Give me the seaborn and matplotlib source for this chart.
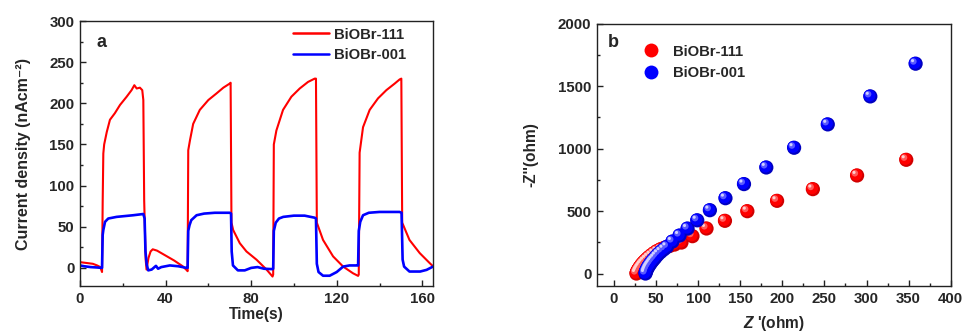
import numpy as np
import pandas as pd
import matplotlib
matplotlib.use("Agg")
import matplotlib.pyplot as plt
import matplotlib.transforms as mtransforms
from matplotlib.lines import Line2D
from matplotlib.ticker import MultipleLocator
import seaborn as sns

# ---------------- data: panel a (photocurrent) ----------------
t_111 = [0, 3, 6, 8, 9.5, 10.3, 10.6, 10.9, 11.3, 11.7, 12.5, 14, 16.3, 18.7, 21.8, 24.1,
         25.4, 26.5, 28, 29.1, 29.6, 30, 30.7, 31.1, 32, 33, 34, 36, 40, 44, 48, 50,
         50.3, 50.6, 51.4, 52.9, 56, 60, 63.8, 67, 70, 70.4, 70.8, 71.6, 74.7, 77.8,
         82.5, 87.2, 90, 90.3, 90.6, 91.8, 94.9, 98.8, 102.7, 106.6, 109.7, 110.3,
         110.7, 113.6, 118.3, 123, 127.6, 130, 130.3, 130.7, 132.3, 135.4, 139.3,
         143.2, 147.1, 149.4, 150.2, 150.6, 154, 158.8, 163.4, 165]
j_111 = [7, 6, 5, 3, 1, -5, 80, 139, 150, 155, 165, 180, 188, 198, 208, 216,
         222, 218, 219, 216, 204, 82, 10, -2, 12, 20, 22.6, 21, 15, 9, 2, -3,
         -4, 143, 155, 175, 192, 204, 212, 219, 224, 225, 55, 46, 30, 20,
         10, -2, -10.5, -8, 150, 167, 192, 208, 218, 226, 230, 230,
         55, 34, 14, 1.6, -6.5, -9.7, -8, 140, 171, 192, 206,
         216, 224, 229, 230, 55, 34, 18, 6, 2]

t_001 = [0, 2, 5, 8, 10.3, 10.6, 10.9, 11.7, 13.2, 17.1, 21, 24.9, 29.6, 30.2, 30.6,
         31.2, 31.9, 33.5, 35.5, 36.5, 38, 42, 46, 49.8, 50.3, 50.6, 51.2, 52, 54.5,
         58, 63, 70, 70.6, 70.9, 71.5, 73.8, 77, 80, 83, 86, 90, 90.3, 90.6, 91.5,
         93, 95, 100, 105, 109.7, 110.3, 110.7, 111.5, 113.6, 116.7, 120, 123, 126,
         129.5, 130, 130.3, 131, 132.3, 135, 140, 145, 149.4, 150.3, 150.8, 151.5,
         154, 159, 162, 165]
j_001 = [3, 2, 1, 0.5, 0, 40, 46, 56, 60, 62, 63, 64, 65.5, 60, 20,
         4, -3, -2, 2.5, -1, 1, 3, 2, 0, 0, 45, 52, 58, 64,
         66, 67, 67, 66, 20, 3, -3, -3, 0, 1, -1, -1.5, -1, 45, 55,
         60, 62, 63.5, 63.5, 61, 60, 5, -5, -9.5, -9.5, -5, 1.6, 3,
         3, 3, 45, 56, 64, 67, 68, 68, 68, 67, 10, 1.6,
         -4.4, -4.4, -2.4, 1.6]

# ---------------- data: panel b (Nyquist) ----------------
zre_111 = [26.8, 27.3, 28, 28.9, 30, 31.3, 32.8, 34.5, 36.5, 38.8, 41.3, 44.2, 47.5,
           51.2, 55.5, 60.5, 66, 72, 80.2, 93.3, 110, 131.9, 158.5, 193.8, 236.3,
           288.8, 347.2]
zim_111 = [0, 9, 19, 30, 42, 55, 69, 83, 98, 113, 129, 145, 162,
           179, 194, 207, 220, 232, 248, 299, 360.5, 422, 499, 582, 675.6,
           785, 910.5]

zre_001 = [37.5, 37.8, 38.3, 39, 39.8, 40.8, 42, 43.3, 44.8, 46.5, 48.5, 50.5, 53,
           56, 59.5, 63, 69.5, 78, 87.5, 99, 114, 132.5, 154.5, 181, 214, 254,
           304.5, 358.3]
zim_001 = [0, 10, 20, 31, 42, 54, 66, 79, 93, 107, 122, 139, 157,
           175, 194, 213, 256, 304, 360, 426, 507, 603, 716, 849, 1007, 1194,
           1418, 1680]

labels = ["BiOBr-111", "BiOBr-001"]
colors = ["#ff0000", "#0000ff"]

# ---------------- style ----------------
sns.set_theme(style="ticks")
plt.rcParams["font.family"] = ["Liberation Sans", "DejaVu Sans"]
plt.rcParams["font.weight"] = "bold"
plt.rcParams["axes.labelweight"] = "bold"
plt.rcParams["mathtext.fontset"] = "custom"
plt.rcParams["mathtext.rm"] = "Liberation Sans:bold"
plt.rcParams["mathtext.bf"] = "Liberation Sans:bold"
plt.rcParams["mathtext.it"] = "Liberation Sans:bold:italic"

fig = plt.figure(figsize=(9.65, 3.33), dpi=100)
axa = fig.add_axes([0.0829, 0.1411, 0.3658, 0.7958])
axb = fig.add_axes([0.6187, 0.1411, 0.3665, 0.7877])

df_a = pd.concat([
    pd.DataFrame({"t": t_111, "j": j_111, "s": labels[0]}),
    pd.DataFrame({"t": t_001, "j": j_001, "s": labels[1]}),
])
for lab, col, lw in zip(labels, colors, [1.5, 1.9]):
    sub = df_a[df_a["s"] == lab]
    sns.lineplot(data=sub, x="t", y="j", ax=axa, color=col, lw=lw,
                 sort=False, estimator=None, legend=False)

axa.set_xlim(0, 165)
axa.set_ylim(-22, 300)
axa.xaxis.set_major_locator(MultipleLocator(40))
axa.xaxis.set_minor_locator(MultipleLocator(20))
axa.yaxis.set_major_locator(MultipleLocator(50))
axa.yaxis.set_minor_locator(MultipleLocator(25))
axa.set_xlabel("Time(s)", fontsize=11.2, labelpad=1)
axa.set_ylabel("Current density (nAcm\u207b\u00b2)", fontsize=11.5, labelpad=13)
axa.text(0.06, 0.92, "a", transform=axa.transAxes, fontsize=13,
         fontweight="bold", va="center", ha="center")
handles_a = [Line2D([], [], color=c, lw=1.8) for c in colors]
axa.legend(handles_a, labels, loc="upper left", bbox_to_anchor=(0.603, 0.975),
           frameon=False, fontsize=10.7, handlelength=2.4, handletextpad=0.35,
           labelspacing=0.42, borderpad=0, borderaxespad=0)

# panel b
df_b = pd.concat([
    pd.DataFrame({"zre": zre_111, "zim": zim_111, "s": labels[0]}),
    pd.DataFrame({"zre": zre_001, "zim": zim_001, "s": labels[1]}),
])
light = {"#ff0000": "#ff5a5a", "#0000ff": "#5a5aff"}
dark = {"#ff0000": "#d00000", "#0000ff": "#0000c0"}
glint = {"#ff0000": "#ffd0d0", "#0000ff": "#d0d0ff"}
for lab, col in zip(labels, colors):
    sub = df_b[df_b["s"] == lab]
    sns.scatterplot(data=sub, x="zre", y="zim", ax=axb, color=dark[col], s=105,
                    edgecolor="none", legend=False)
    off1 = axb.transData + mtransforms.ScaledTranslation(-0.6 / 72, 0.6 / 72, fig.dpi_scale_trans)
    axb.scatter(sub["zre"], sub["zim"], s=74, color=col, edgecolor="none", transform=off1)
    off2 = axb.transData + mtransforms.ScaledTranslation(-1.6 / 72, 1.6 / 72, fig.dpi_scale_trans)
    axb.scatter(sub["zre"], sub["zim"], s=22, color=light[col], edgecolor="none", transform=off2)
    off3 = axb.transData + mtransforms.ScaledTranslation(-2.2 / 72, 2.2 / 72, fig.dpi_scale_trans)
    axb.scatter(sub["zre"], sub["zim"], s=5, color=glint[col], edgecolor="none", transform=off3)

axb.set_xlim(-20, 400)
axb.set_ylim(-100, 2000)
axb.xaxis.set_major_locator(MultipleLocator(50))
axb.xaxis.set_minor_locator(MultipleLocator(25))
axb.yaxis.set_major_locator(MultipleLocator(500))
axb.yaxis.set_minor_locator(MultipleLocator(250))
axb.set_xlabel("$Z$ '(ohm)", fontsize=11.2, labelpad=6)
axb.set_ylabel("-Z''(ohm)", fontsize=11.2, labelpad=14)
axb.text(0.045, 0.93, "b", transform=axb.transAxes, fontsize=13,
         fontweight="bold", va="center", ha="center")
handles_b = [Line2D([], [], color=c, marker="o", ls="none", markersize=10,
                    markeredgewidth=0) for c in colors]
axb.legend(handles_b, labels, loc="upper left", bbox_to_anchor=(0.131, 0.92),
           frameon=False, fontsize=10.7, handlelength=1.0, handletextpad=1.0,
           labelspacing=0.52, borderpad=0, borderaxespad=0)

for ax in (axa, axb):
    for sp in ax.spines.values():
        sp.set_visible(True)
        sp.set_linewidth(1.0)
        sp.set_color("#222222")
    ax.tick_params(which="both", direction="in", top=False, right=False,
                   labelsize=10.8, width=1.0, color="#222222", pad=4)
    ax.tick_params(which="major", length=4)
    ax.tick_params(which="minor", length=2.5)
    for lab in ax.get_xticklabels() + ax.get_yticklabels():
        lab.set_fontweight("bold")

fig.savefig("out.png", dpi=100)
